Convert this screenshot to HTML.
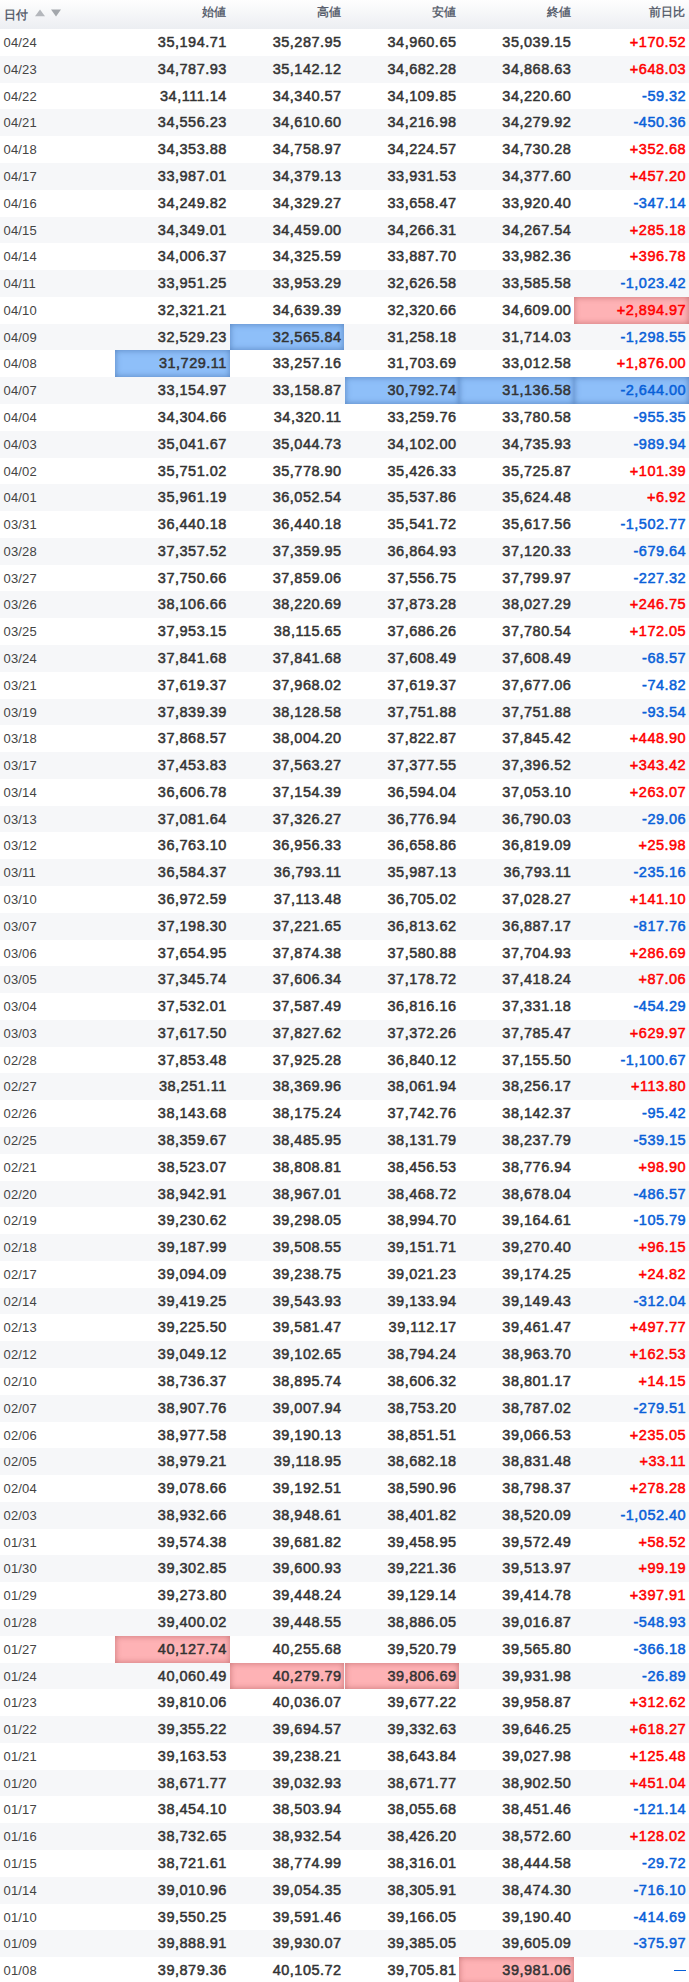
<!DOCTYPE html><html><head><meta charset="utf-8"><style>
*{margin:0;padding:0;box-sizing:border-box}
html,body{width:689px;height:1982px;overflow:hidden;background:#fff}
body{position:relative;font-family:"Liberation Sans",sans-serif;color:#333}
.hd{position:absolute;left:0;top:0;width:689px;height:29px;background:linear-gradient(#fefefe,#eceef2)}
.h{position:absolute;top:0;height:29px;font-size:12px;line-height:23px;color:#4b5262;text-align:right;padding-right:3.5px;-webkit-text-stroke:0.3px #4b5262;padding-top:0.5px}
.r{position:absolute;left:0;width:689px}
.g{background:#f6f7f9}
.c{position:absolute;top:0;height:100%;text-align:right;padding-right:2.8px;font-weight:normal;font-size:14.5px;letter-spacing:0.5px;-webkit-text-stroke:0.5px currentColor;padding-top:0}
.c>i{font-style:normal}
.d{text-align:left;padding-left:3.5px;letter-spacing:0.15px;font-size:13px;-webkit-text-stroke:0;color:#444;padding-top:1px}
.up{color:#f00}.dn{color:#0860d8}
.bl{background:#8ebff9;box-shadow:inset 0 0 6px rgba(30,70,130,.5)}
.pk{background:#feb2b5;box-shadow:inset 0 0 6px rgba(130,40,40,.45)}
.dash{display:inline-block;width:11.5px;height:1.3px;background:#0860d8;vertical-align:middle;margin-right:0.5px;position:relative;top:-1px}
.ar{position:absolute;left:0;top:0}
</style></head><body>
<div class="hd">
<div class="h" style="left:0;width:114.833px;text-align:left;padding-left:4.3px;line-height:28px">日付</div>
<svg class="ar" width="70" height="29"><polygon points="35,16.2 45,16.2 40,9.6" fill="#b4b7bc"/><polygon points="51,9.6 61,9.6 56,16.5" fill="#a3a7ac"/></svg>
<div class="h" style="left:114.833px;width:114.833px">始値</div>
<div class="h" style="left:229.667px;width:114.833px">高値</div>
<div class="h" style="left:344.500px;width:114.833px">安値</div>
<div class="h" style="left:459.333px;width:114.833px">終値</div>
<div class="h" style="left:574.167px;width:114.833px">前日比</div>
</div>
<div class="r" style="top:29.15px;height:26.777px;line-height:26.777px">
<span class="c d" style="left:0.000px;width:114.833px"><i>04/24</i></span>
<span class="c" style="left:114.833px;width:114.833px"><i>35,194.71</i></span>
<span class="c" style="left:229.667px;width:114.833px"><i>35,287.95</i></span>
<span class="c" style="left:344.500px;width:114.833px"><i>34,960.65</i></span>
<span class="c" style="left:459.333px;width:114.833px"><i>35,039.15</i></span>
<span class="c up" style="left:574.167px;width:114.833px"><i>+170.52</i></span>
</div>
<div class="r g" style="top:55.93px;height:26.777px;line-height:26.777px">
<span class="c d" style="left:0.000px;width:114.833px"><i>04/23</i></span>
<span class="c" style="left:114.833px;width:114.833px"><i>34,787.93</i></span>
<span class="c" style="left:229.667px;width:114.833px"><i>35,142.12</i></span>
<span class="c" style="left:344.500px;width:114.833px"><i>34,682.28</i></span>
<span class="c" style="left:459.333px;width:114.833px"><i>34,868.63</i></span>
<span class="c up" style="left:574.167px;width:114.833px"><i>+648.03</i></span>
</div>
<div class="r" style="top:82.70px;height:26.777px;line-height:26.777px">
<span class="c d" style="left:0.000px;width:114.833px"><i>04/22</i></span>
<span class="c" style="left:114.833px;width:114.833px"><i>34,111.14</i></span>
<span class="c" style="left:229.667px;width:114.833px"><i>34,340.57</i></span>
<span class="c" style="left:344.500px;width:114.833px"><i>34,109.85</i></span>
<span class="c" style="left:459.333px;width:114.833px"><i>34,220.60</i></span>
<span class="c dn" style="left:574.167px;width:114.833px"><i>-59.32</i></span>
</div>
<div class="r g" style="top:109.48px;height:26.777px;line-height:26.777px">
<span class="c d" style="left:0.000px;width:114.833px"><i>04/21</i></span>
<span class="c" style="left:114.833px;width:114.833px"><i>34,556.23</i></span>
<span class="c" style="left:229.667px;width:114.833px"><i>34,610.60</i></span>
<span class="c" style="left:344.500px;width:114.833px"><i>34,216.98</i></span>
<span class="c" style="left:459.333px;width:114.833px"><i>34,279.92</i></span>
<span class="c dn" style="left:574.167px;width:114.833px"><i>-450.36</i></span>
</div>
<div class="r" style="top:136.26px;height:26.777px;line-height:26.777px">
<span class="c d" style="left:0.000px;width:114.833px"><i>04/18</i></span>
<span class="c" style="left:114.833px;width:114.833px"><i>34,353.88</i></span>
<span class="c" style="left:229.667px;width:114.833px"><i>34,758.97</i></span>
<span class="c" style="left:344.500px;width:114.833px"><i>34,224.57</i></span>
<span class="c" style="left:459.333px;width:114.833px"><i>34,730.28</i></span>
<span class="c up" style="left:574.167px;width:114.833px"><i>+352.68</i></span>
</div>
<div class="r g" style="top:163.03px;height:26.777px;line-height:26.777px">
<span class="c d" style="left:0.000px;width:114.833px"><i>04/17</i></span>
<span class="c" style="left:114.833px;width:114.833px"><i>33,987.01</i></span>
<span class="c" style="left:229.667px;width:114.833px"><i>34,379.13</i></span>
<span class="c" style="left:344.500px;width:114.833px"><i>33,931.53</i></span>
<span class="c" style="left:459.333px;width:114.833px"><i>34,377.60</i></span>
<span class="c up" style="left:574.167px;width:114.833px"><i>+457.20</i></span>
</div>
<div class="r" style="top:189.81px;height:26.777px;line-height:26.777px">
<span class="c d" style="left:0.000px;width:114.833px"><i>04/16</i></span>
<span class="c" style="left:114.833px;width:114.833px"><i>34,249.82</i></span>
<span class="c" style="left:229.667px;width:114.833px"><i>34,329.27</i></span>
<span class="c" style="left:344.500px;width:114.833px"><i>33,658.47</i></span>
<span class="c" style="left:459.333px;width:114.833px"><i>33,920.40</i></span>
<span class="c dn" style="left:574.167px;width:114.833px"><i>-347.14</i></span>
</div>
<div class="r g" style="top:216.59px;height:26.777px;line-height:26.777px">
<span class="c d" style="left:0.000px;width:114.833px"><i>04/15</i></span>
<span class="c" style="left:114.833px;width:114.833px"><i>34,349.01</i></span>
<span class="c" style="left:229.667px;width:114.833px"><i>34,459.00</i></span>
<span class="c" style="left:344.500px;width:114.833px"><i>34,266.31</i></span>
<span class="c" style="left:459.333px;width:114.833px"><i>34,267.54</i></span>
<span class="c up" style="left:574.167px;width:114.833px"><i>+285.18</i></span>
</div>
<div class="r" style="top:243.37px;height:26.777px;line-height:26.777px">
<span class="c d" style="left:0.000px;width:114.833px"><i>04/14</i></span>
<span class="c" style="left:114.833px;width:114.833px"><i>34,006.37</i></span>
<span class="c" style="left:229.667px;width:114.833px"><i>34,325.59</i></span>
<span class="c" style="left:344.500px;width:114.833px"><i>33,887.70</i></span>
<span class="c" style="left:459.333px;width:114.833px"><i>33,982.36</i></span>
<span class="c up" style="left:574.167px;width:114.833px"><i>+396.78</i></span>
</div>
<div class="r g" style="top:270.14px;height:26.777px;line-height:26.777px">
<span class="c d" style="left:0.000px;width:114.833px"><i>04/11</i></span>
<span class="c" style="left:114.833px;width:114.833px"><i>33,951.25</i></span>
<span class="c" style="left:229.667px;width:114.833px"><i>33,953.29</i></span>
<span class="c" style="left:344.500px;width:114.833px"><i>32,626.58</i></span>
<span class="c" style="left:459.333px;width:114.833px"><i>33,585.58</i></span>
<span class="c dn" style="left:574.167px;width:114.833px"><i>-1,023.42</i></span>
</div>
<div class="r" style="top:296.92px;height:26.777px;line-height:26.777px">
<span class="c d" style="left:0.000px;width:114.833px"><i>04/10</i></span>
<span class="c" style="left:114.833px;width:114.833px"><i>32,321.21</i></span>
<span class="c" style="left:229.667px;width:114.833px"><i>34,639.39</i></span>
<span class="c" style="left:344.500px;width:114.833px"><i>32,320.66</i></span>
<span class="c" style="left:459.333px;width:114.833px"><i>34,609.00</i></span>
<span class="c up pk" style="left:574.167px;width:114.833px"><i>+2,894.97</i></span>
</div>
<div class="r g" style="top:323.70px;height:26.777px;line-height:26.777px">
<span class="c d" style="left:0.000px;width:114.833px"><i>04/09</i></span>
<span class="c" style="left:114.833px;width:114.833px"><i>32,529.23</i></span>
<span class="c bl" style="left:229.667px;width:114.833px"><i>32,565.84</i></span>
<span class="c" style="left:344.500px;width:114.833px"><i>31,258.18</i></span>
<span class="c" style="left:459.333px;width:114.833px"><i>31,714.03</i></span>
<span class="c dn" style="left:574.167px;width:114.833px"><i>-1,298.55</i></span>
</div>
<div class="r" style="top:350.47px;height:26.777px;line-height:26.777px">
<span class="c d" style="left:0.000px;width:114.833px"><i>04/08</i></span>
<span class="c bl" style="left:114.833px;width:114.833px"><i>31,729.11</i></span>
<span class="c" style="left:229.667px;width:114.833px"><i>33,257.16</i></span>
<span class="c" style="left:344.500px;width:114.833px"><i>31,703.69</i></span>
<span class="c" style="left:459.333px;width:114.833px"><i>33,012.58</i></span>
<span class="c up" style="left:574.167px;width:114.833px"><i>+1,876.00</i></span>
</div>
<div class="r g" style="top:377.25px;height:26.777px;line-height:26.777px">
<span class="c d" style="left:0.000px;width:114.833px"><i>04/07</i></span>
<span class="c" style="left:114.833px;width:114.833px"><i>33,154.97</i></span>
<span class="c" style="left:229.667px;width:114.833px"><i>33,158.87</i></span>
<span class="c bl" style="left:344.500px;width:114.833px"><i>30,792.74</i></span>
<span class="c bl" style="left:459.333px;width:114.833px"><i>31,136.58</i></span>
<span class="c dn bl" style="left:574.167px;width:114.833px"><i>-2,644.00</i></span>
</div>
<div class="r" style="top:404.03px;height:26.777px;line-height:26.777px">
<span class="c d" style="left:0.000px;width:114.833px"><i>04/04</i></span>
<span class="c" style="left:114.833px;width:114.833px"><i>34,304.66</i></span>
<span class="c" style="left:229.667px;width:114.833px"><i>34,320.11</i></span>
<span class="c" style="left:344.500px;width:114.833px"><i>33,259.76</i></span>
<span class="c" style="left:459.333px;width:114.833px"><i>33,780.58</i></span>
<span class="c dn" style="left:574.167px;width:114.833px"><i>-955.35</i></span>
</div>
<div class="r g" style="top:430.81px;height:26.777px;line-height:26.777px">
<span class="c d" style="left:0.000px;width:114.833px"><i>04/03</i></span>
<span class="c" style="left:114.833px;width:114.833px"><i>35,041.67</i></span>
<span class="c" style="left:229.667px;width:114.833px"><i>35,044.73</i></span>
<span class="c" style="left:344.500px;width:114.833px"><i>34,102.00</i></span>
<span class="c" style="left:459.333px;width:114.833px"><i>34,735.93</i></span>
<span class="c dn" style="left:574.167px;width:114.833px"><i>-989.94</i></span>
</div>
<div class="r" style="top:457.58px;height:26.777px;line-height:26.777px">
<span class="c d" style="left:0.000px;width:114.833px"><i>04/02</i></span>
<span class="c" style="left:114.833px;width:114.833px"><i>35,751.02</i></span>
<span class="c" style="left:229.667px;width:114.833px"><i>35,778.90</i></span>
<span class="c" style="left:344.500px;width:114.833px"><i>35,426.33</i></span>
<span class="c" style="left:459.333px;width:114.833px"><i>35,725.87</i></span>
<span class="c up" style="left:574.167px;width:114.833px"><i>+101.39</i></span>
</div>
<div class="r g" style="top:484.36px;height:26.777px;line-height:26.777px">
<span class="c d" style="left:0.000px;width:114.833px"><i>04/01</i></span>
<span class="c" style="left:114.833px;width:114.833px"><i>35,961.19</i></span>
<span class="c" style="left:229.667px;width:114.833px"><i>36,052.54</i></span>
<span class="c" style="left:344.500px;width:114.833px"><i>35,537.86</i></span>
<span class="c" style="left:459.333px;width:114.833px"><i>35,624.48</i></span>
<span class="c up" style="left:574.167px;width:114.833px"><i>+6.92</i></span>
</div>
<div class="r" style="top:511.14px;height:26.777px;line-height:26.777px">
<span class="c d" style="left:0.000px;width:114.833px"><i>03/31</i></span>
<span class="c" style="left:114.833px;width:114.833px"><i>36,440.18</i></span>
<span class="c" style="left:229.667px;width:114.833px"><i>36,440.18</i></span>
<span class="c" style="left:344.500px;width:114.833px"><i>35,541.72</i></span>
<span class="c" style="left:459.333px;width:114.833px"><i>35,617.56</i></span>
<span class="c dn" style="left:574.167px;width:114.833px"><i>-1,502.77</i></span>
</div>
<div class="r g" style="top:537.91px;height:26.777px;line-height:26.777px">
<span class="c d" style="left:0.000px;width:114.833px"><i>03/28</i></span>
<span class="c" style="left:114.833px;width:114.833px"><i>37,357.52</i></span>
<span class="c" style="left:229.667px;width:114.833px"><i>37,359.95</i></span>
<span class="c" style="left:344.500px;width:114.833px"><i>36,864.93</i></span>
<span class="c" style="left:459.333px;width:114.833px"><i>37,120.33</i></span>
<span class="c dn" style="left:574.167px;width:114.833px"><i>-679.64</i></span>
</div>
<div class="r" style="top:564.69px;height:26.777px;line-height:26.777px">
<span class="c d" style="left:0.000px;width:114.833px"><i>03/27</i></span>
<span class="c" style="left:114.833px;width:114.833px"><i>37,750.66</i></span>
<span class="c" style="left:229.667px;width:114.833px"><i>37,859.06</i></span>
<span class="c" style="left:344.500px;width:114.833px"><i>37,556.75</i></span>
<span class="c" style="left:459.333px;width:114.833px"><i>37,799.97</i></span>
<span class="c dn" style="left:574.167px;width:114.833px"><i>-227.32</i></span>
</div>
<div class="r g" style="top:591.47px;height:26.777px;line-height:26.777px">
<span class="c d" style="left:0.000px;width:114.833px"><i>03/26</i></span>
<span class="c" style="left:114.833px;width:114.833px"><i>38,106.66</i></span>
<span class="c" style="left:229.667px;width:114.833px"><i>38,220.69</i></span>
<span class="c" style="left:344.500px;width:114.833px"><i>37,873.28</i></span>
<span class="c" style="left:459.333px;width:114.833px"><i>38,027.29</i></span>
<span class="c up" style="left:574.167px;width:114.833px"><i>+246.75</i></span>
</div>
<div class="r" style="top:618.24px;height:26.777px;line-height:26.777px">
<span class="c d" style="left:0.000px;width:114.833px"><i>03/25</i></span>
<span class="c" style="left:114.833px;width:114.833px"><i>37,953.15</i></span>
<span class="c" style="left:229.667px;width:114.833px"><i>38,115.65</i></span>
<span class="c" style="left:344.500px;width:114.833px"><i>37,686.26</i></span>
<span class="c" style="left:459.333px;width:114.833px"><i>37,780.54</i></span>
<span class="c up" style="left:574.167px;width:114.833px"><i>+172.05</i></span>
</div>
<div class="r g" style="top:645.02px;height:26.777px;line-height:26.777px">
<span class="c d" style="left:0.000px;width:114.833px"><i>03/24</i></span>
<span class="c" style="left:114.833px;width:114.833px"><i>37,841.68</i></span>
<span class="c" style="left:229.667px;width:114.833px"><i>37,841.68</i></span>
<span class="c" style="left:344.500px;width:114.833px"><i>37,608.49</i></span>
<span class="c" style="left:459.333px;width:114.833px"><i>37,608.49</i></span>
<span class="c dn" style="left:574.167px;width:114.833px"><i>-68.57</i></span>
</div>
<div class="r" style="top:671.80px;height:26.777px;line-height:26.777px">
<span class="c d" style="left:0.000px;width:114.833px"><i>03/21</i></span>
<span class="c" style="left:114.833px;width:114.833px"><i>37,619.37</i></span>
<span class="c" style="left:229.667px;width:114.833px"><i>37,968.02</i></span>
<span class="c" style="left:344.500px;width:114.833px"><i>37,619.37</i></span>
<span class="c" style="left:459.333px;width:114.833px"><i>37,677.06</i></span>
<span class="c dn" style="left:574.167px;width:114.833px"><i>-74.82</i></span>
</div>
<div class="r g" style="top:698.58px;height:26.777px;line-height:26.777px">
<span class="c d" style="left:0.000px;width:114.833px"><i>03/19</i></span>
<span class="c" style="left:114.833px;width:114.833px"><i>37,839.39</i></span>
<span class="c" style="left:229.667px;width:114.833px"><i>38,128.58</i></span>
<span class="c" style="left:344.500px;width:114.833px"><i>37,751.88</i></span>
<span class="c" style="left:459.333px;width:114.833px"><i>37,751.88</i></span>
<span class="c dn" style="left:574.167px;width:114.833px"><i>-93.54</i></span>
</div>
<div class="r" style="top:725.35px;height:26.777px;line-height:26.777px">
<span class="c d" style="left:0.000px;width:114.833px"><i>03/18</i></span>
<span class="c" style="left:114.833px;width:114.833px"><i>37,868.57</i></span>
<span class="c" style="left:229.667px;width:114.833px"><i>38,004.20</i></span>
<span class="c" style="left:344.500px;width:114.833px"><i>37,822.87</i></span>
<span class="c" style="left:459.333px;width:114.833px"><i>37,845.42</i></span>
<span class="c up" style="left:574.167px;width:114.833px"><i>+448.90</i></span>
</div>
<div class="r g" style="top:752.13px;height:26.777px;line-height:26.777px">
<span class="c d" style="left:0.000px;width:114.833px"><i>03/17</i></span>
<span class="c" style="left:114.833px;width:114.833px"><i>37,453.83</i></span>
<span class="c" style="left:229.667px;width:114.833px"><i>37,563.27</i></span>
<span class="c" style="left:344.500px;width:114.833px"><i>37,377.55</i></span>
<span class="c" style="left:459.333px;width:114.833px"><i>37,396.52</i></span>
<span class="c up" style="left:574.167px;width:114.833px"><i>+343.42</i></span>
</div>
<div class="r" style="top:778.91px;height:26.777px;line-height:26.777px">
<span class="c d" style="left:0.000px;width:114.833px"><i>03/14</i></span>
<span class="c" style="left:114.833px;width:114.833px"><i>36,606.78</i></span>
<span class="c" style="left:229.667px;width:114.833px"><i>37,154.39</i></span>
<span class="c" style="left:344.500px;width:114.833px"><i>36,594.04</i></span>
<span class="c" style="left:459.333px;width:114.833px"><i>37,053.10</i></span>
<span class="c up" style="left:574.167px;width:114.833px"><i>+263.07</i></span>
</div>
<div class="r g" style="top:805.68px;height:26.777px;line-height:26.777px">
<span class="c d" style="left:0.000px;width:114.833px"><i>03/13</i></span>
<span class="c" style="left:114.833px;width:114.833px"><i>37,081.64</i></span>
<span class="c" style="left:229.667px;width:114.833px"><i>37,326.27</i></span>
<span class="c" style="left:344.500px;width:114.833px"><i>36,776.94</i></span>
<span class="c" style="left:459.333px;width:114.833px"><i>36,790.03</i></span>
<span class="c dn" style="left:574.167px;width:114.833px"><i>-29.06</i></span>
</div>
<div class="r" style="top:832.46px;height:26.777px;line-height:26.777px">
<span class="c d" style="left:0.000px;width:114.833px"><i>03/12</i></span>
<span class="c" style="left:114.833px;width:114.833px"><i>36,763.10</i></span>
<span class="c" style="left:229.667px;width:114.833px"><i>36,956.33</i></span>
<span class="c" style="left:344.500px;width:114.833px"><i>36,658.86</i></span>
<span class="c" style="left:459.333px;width:114.833px"><i>36,819.09</i></span>
<span class="c up" style="left:574.167px;width:114.833px"><i>+25.98</i></span>
</div>
<div class="r g" style="top:859.24px;height:26.777px;line-height:26.777px">
<span class="c d" style="left:0.000px;width:114.833px"><i>03/11</i></span>
<span class="c" style="left:114.833px;width:114.833px"><i>36,584.37</i></span>
<span class="c" style="left:229.667px;width:114.833px"><i>36,793.11</i></span>
<span class="c" style="left:344.500px;width:114.833px"><i>35,987.13</i></span>
<span class="c" style="left:459.333px;width:114.833px"><i>36,793.11</i></span>
<span class="c dn" style="left:574.167px;width:114.833px"><i>-235.16</i></span>
</div>
<div class="r" style="top:886.01px;height:26.777px;line-height:26.777px">
<span class="c d" style="left:0.000px;width:114.833px"><i>03/10</i></span>
<span class="c" style="left:114.833px;width:114.833px"><i>36,972.59</i></span>
<span class="c" style="left:229.667px;width:114.833px"><i>37,113.48</i></span>
<span class="c" style="left:344.500px;width:114.833px"><i>36,705.02</i></span>
<span class="c" style="left:459.333px;width:114.833px"><i>37,028.27</i></span>
<span class="c up" style="left:574.167px;width:114.833px"><i>+141.10</i></span>
</div>
<div class="r g" style="top:912.79px;height:26.777px;line-height:26.777px">
<span class="c d" style="left:0.000px;width:114.833px"><i>03/07</i></span>
<span class="c" style="left:114.833px;width:114.833px"><i>37,198.30</i></span>
<span class="c" style="left:229.667px;width:114.833px"><i>37,221.65</i></span>
<span class="c" style="left:344.500px;width:114.833px"><i>36,813.62</i></span>
<span class="c" style="left:459.333px;width:114.833px"><i>36,887.17</i></span>
<span class="c dn" style="left:574.167px;width:114.833px"><i>-817.76</i></span>
</div>
<div class="r" style="top:939.57px;height:26.777px;line-height:26.777px">
<span class="c d" style="left:0.000px;width:114.833px"><i>03/06</i></span>
<span class="c" style="left:114.833px;width:114.833px"><i>37,654.95</i></span>
<span class="c" style="left:229.667px;width:114.833px"><i>37,874.38</i></span>
<span class="c" style="left:344.500px;width:114.833px"><i>37,580.88</i></span>
<span class="c" style="left:459.333px;width:114.833px"><i>37,704.93</i></span>
<span class="c up" style="left:574.167px;width:114.833px"><i>+286.69</i></span>
</div>
<div class="r g" style="top:966.35px;height:26.777px;line-height:26.777px">
<span class="c d" style="left:0.000px;width:114.833px"><i>03/05</i></span>
<span class="c" style="left:114.833px;width:114.833px"><i>37,345.74</i></span>
<span class="c" style="left:229.667px;width:114.833px"><i>37,606.34</i></span>
<span class="c" style="left:344.500px;width:114.833px"><i>37,178.72</i></span>
<span class="c" style="left:459.333px;width:114.833px"><i>37,418.24</i></span>
<span class="c up" style="left:574.167px;width:114.833px"><i>+87.06</i></span>
</div>
<div class="r" style="top:993.12px;height:26.777px;line-height:26.777px">
<span class="c d" style="left:0.000px;width:114.833px"><i>03/04</i></span>
<span class="c" style="left:114.833px;width:114.833px"><i>37,532.01</i></span>
<span class="c" style="left:229.667px;width:114.833px"><i>37,587.49</i></span>
<span class="c" style="left:344.500px;width:114.833px"><i>36,816.16</i></span>
<span class="c" style="left:459.333px;width:114.833px"><i>37,331.18</i></span>
<span class="c dn" style="left:574.167px;width:114.833px"><i>-454.29</i></span>
</div>
<div class="r g" style="top:1019.90px;height:26.777px;line-height:26.777px">
<span class="c d" style="left:0.000px;width:114.833px"><i>03/03</i></span>
<span class="c" style="left:114.833px;width:114.833px"><i>37,617.50</i></span>
<span class="c" style="left:229.667px;width:114.833px"><i>37,827.62</i></span>
<span class="c" style="left:344.500px;width:114.833px"><i>37,372.26</i></span>
<span class="c" style="left:459.333px;width:114.833px"><i>37,785.47</i></span>
<span class="c up" style="left:574.167px;width:114.833px"><i>+629.97</i></span>
</div>
<div class="r" style="top:1046.68px;height:26.777px;line-height:26.777px">
<span class="c d" style="left:0.000px;width:114.833px"><i>02/28</i></span>
<span class="c" style="left:114.833px;width:114.833px"><i>37,853.48</i></span>
<span class="c" style="left:229.667px;width:114.833px"><i>37,925.28</i></span>
<span class="c" style="left:344.500px;width:114.833px"><i>36,840.12</i></span>
<span class="c" style="left:459.333px;width:114.833px"><i>37,155.50</i></span>
<span class="c dn" style="left:574.167px;width:114.833px"><i>-1,100.67</i></span>
</div>
<div class="r g" style="top:1073.45px;height:26.777px;line-height:26.777px">
<span class="c d" style="left:0.000px;width:114.833px"><i>02/27</i></span>
<span class="c" style="left:114.833px;width:114.833px"><i>38,251.11</i></span>
<span class="c" style="left:229.667px;width:114.833px"><i>38,369.96</i></span>
<span class="c" style="left:344.500px;width:114.833px"><i>38,061.94</i></span>
<span class="c" style="left:459.333px;width:114.833px"><i>38,256.17</i></span>
<span class="c up" style="left:574.167px;width:114.833px"><i>+113.80</i></span>
</div>
<div class="r" style="top:1100.23px;height:26.777px;line-height:26.777px">
<span class="c d" style="left:0.000px;width:114.833px"><i>02/26</i></span>
<span class="c" style="left:114.833px;width:114.833px"><i>38,143.68</i></span>
<span class="c" style="left:229.667px;width:114.833px"><i>38,175.24</i></span>
<span class="c" style="left:344.500px;width:114.833px"><i>37,742.76</i></span>
<span class="c" style="left:459.333px;width:114.833px"><i>38,142.37</i></span>
<span class="c dn" style="left:574.167px;width:114.833px"><i>-95.42</i></span>
</div>
<div class="r g" style="top:1127.01px;height:26.777px;line-height:26.777px">
<span class="c d" style="left:0.000px;width:114.833px"><i>02/25</i></span>
<span class="c" style="left:114.833px;width:114.833px"><i>38,359.67</i></span>
<span class="c" style="left:229.667px;width:114.833px"><i>38,485.95</i></span>
<span class="c" style="left:344.500px;width:114.833px"><i>38,131.79</i></span>
<span class="c" style="left:459.333px;width:114.833px"><i>38,237.79</i></span>
<span class="c dn" style="left:574.167px;width:114.833px"><i>-539.15</i></span>
</div>
<div class="r" style="top:1153.78px;height:26.777px;line-height:26.777px">
<span class="c d" style="left:0.000px;width:114.833px"><i>02/21</i></span>
<span class="c" style="left:114.833px;width:114.833px"><i>38,523.07</i></span>
<span class="c" style="left:229.667px;width:114.833px"><i>38,808.81</i></span>
<span class="c" style="left:344.500px;width:114.833px"><i>38,456.53</i></span>
<span class="c" style="left:459.333px;width:114.833px"><i>38,776.94</i></span>
<span class="c up" style="left:574.167px;width:114.833px"><i>+98.90</i></span>
</div>
<div class="r g" style="top:1180.56px;height:26.777px;line-height:26.777px">
<span class="c d" style="left:0.000px;width:114.833px"><i>02/20</i></span>
<span class="c" style="left:114.833px;width:114.833px"><i>38,942.91</i></span>
<span class="c" style="left:229.667px;width:114.833px"><i>38,967.01</i></span>
<span class="c" style="left:344.500px;width:114.833px"><i>38,468.72</i></span>
<span class="c" style="left:459.333px;width:114.833px"><i>38,678.04</i></span>
<span class="c dn" style="left:574.167px;width:114.833px"><i>-486.57</i></span>
</div>
<div class="r" style="top:1207.34px;height:26.777px;line-height:26.777px">
<span class="c d" style="left:0.000px;width:114.833px"><i>02/19</i></span>
<span class="c" style="left:114.833px;width:114.833px"><i>39,230.62</i></span>
<span class="c" style="left:229.667px;width:114.833px"><i>39,298.05</i></span>
<span class="c" style="left:344.500px;width:114.833px"><i>38,994.70</i></span>
<span class="c" style="left:459.333px;width:114.833px"><i>39,164.61</i></span>
<span class="c dn" style="left:574.167px;width:114.833px"><i>-105.79</i></span>
</div>
<div class="r g" style="top:1234.12px;height:26.777px;line-height:26.777px">
<span class="c d" style="left:0.000px;width:114.833px"><i>02/18</i></span>
<span class="c" style="left:114.833px;width:114.833px"><i>39,187.99</i></span>
<span class="c" style="left:229.667px;width:114.833px"><i>39,508.55</i></span>
<span class="c" style="left:344.500px;width:114.833px"><i>39,151.71</i></span>
<span class="c" style="left:459.333px;width:114.833px"><i>39,270.40</i></span>
<span class="c up" style="left:574.167px;width:114.833px"><i>+96.15</i></span>
</div>
<div class="r" style="top:1260.89px;height:26.777px;line-height:26.777px">
<span class="c d" style="left:0.000px;width:114.833px"><i>02/17</i></span>
<span class="c" style="left:114.833px;width:114.833px"><i>39,094.09</i></span>
<span class="c" style="left:229.667px;width:114.833px"><i>39,238.75</i></span>
<span class="c" style="left:344.500px;width:114.833px"><i>39,021.23</i></span>
<span class="c" style="left:459.333px;width:114.833px"><i>39,174.25</i></span>
<span class="c up" style="left:574.167px;width:114.833px"><i>+24.82</i></span>
</div>
<div class="r g" style="top:1287.67px;height:26.777px;line-height:26.777px">
<span class="c d" style="left:0.000px;width:114.833px"><i>02/14</i></span>
<span class="c" style="left:114.833px;width:114.833px"><i>39,419.25</i></span>
<span class="c" style="left:229.667px;width:114.833px"><i>39,543.93</i></span>
<span class="c" style="left:344.500px;width:114.833px"><i>39,133.94</i></span>
<span class="c" style="left:459.333px;width:114.833px"><i>39,149.43</i></span>
<span class="c dn" style="left:574.167px;width:114.833px"><i>-312.04</i></span>
</div>
<div class="r" style="top:1314.45px;height:26.777px;line-height:26.777px">
<span class="c d" style="left:0.000px;width:114.833px"><i>02/13</i></span>
<span class="c" style="left:114.833px;width:114.833px"><i>39,225.50</i></span>
<span class="c" style="left:229.667px;width:114.833px"><i>39,581.47</i></span>
<span class="c" style="left:344.500px;width:114.833px"><i>39,112.17</i></span>
<span class="c" style="left:459.333px;width:114.833px"><i>39,461.47</i></span>
<span class="c up" style="left:574.167px;width:114.833px"><i>+497.77</i></span>
</div>
<div class="r g" style="top:1341.22px;height:26.777px;line-height:26.777px">
<span class="c d" style="left:0.000px;width:114.833px"><i>02/12</i></span>
<span class="c" style="left:114.833px;width:114.833px"><i>39,049.12</i></span>
<span class="c" style="left:229.667px;width:114.833px"><i>39,102.65</i></span>
<span class="c" style="left:344.500px;width:114.833px"><i>38,794.24</i></span>
<span class="c" style="left:459.333px;width:114.833px"><i>38,963.70</i></span>
<span class="c up" style="left:574.167px;width:114.833px"><i>+162.53</i></span>
</div>
<div class="r" style="top:1368.00px;height:26.777px;line-height:26.777px">
<span class="c d" style="left:0.000px;width:114.833px"><i>02/10</i></span>
<span class="c" style="left:114.833px;width:114.833px"><i>38,736.37</i></span>
<span class="c" style="left:229.667px;width:114.833px"><i>38,895.74</i></span>
<span class="c" style="left:344.500px;width:114.833px"><i>38,606.32</i></span>
<span class="c" style="left:459.333px;width:114.833px"><i>38,801.17</i></span>
<span class="c up" style="left:574.167px;width:114.833px"><i>+14.15</i></span>
</div>
<div class="r g" style="top:1394.78px;height:26.777px;line-height:26.777px">
<span class="c d" style="left:0.000px;width:114.833px"><i>02/07</i></span>
<span class="c" style="left:114.833px;width:114.833px"><i>38,907.76</i></span>
<span class="c" style="left:229.667px;width:114.833px"><i>39,007.94</i></span>
<span class="c" style="left:344.500px;width:114.833px"><i>38,753.20</i></span>
<span class="c" style="left:459.333px;width:114.833px"><i>38,787.02</i></span>
<span class="c dn" style="left:574.167px;width:114.833px"><i>-279.51</i></span>
</div>
<div class="r" style="top:1421.55px;height:26.777px;line-height:26.777px">
<span class="c d" style="left:0.000px;width:114.833px"><i>02/06</i></span>
<span class="c" style="left:114.833px;width:114.833px"><i>38,977.58</i></span>
<span class="c" style="left:229.667px;width:114.833px"><i>39,190.13</i></span>
<span class="c" style="left:344.500px;width:114.833px"><i>38,851.51</i></span>
<span class="c" style="left:459.333px;width:114.833px"><i>39,066.53</i></span>
<span class="c up" style="left:574.167px;width:114.833px"><i>+235.05</i></span>
</div>
<div class="r g" style="top:1448.33px;height:26.777px;line-height:26.777px">
<span class="c d" style="left:0.000px;width:114.833px"><i>02/05</i></span>
<span class="c" style="left:114.833px;width:114.833px"><i>38,979.21</i></span>
<span class="c" style="left:229.667px;width:114.833px"><i>39,118.95</i></span>
<span class="c" style="left:344.500px;width:114.833px"><i>38,682.18</i></span>
<span class="c" style="left:459.333px;width:114.833px"><i>38,831.48</i></span>
<span class="c up" style="left:574.167px;width:114.833px"><i>+33.11</i></span>
</div>
<div class="r" style="top:1475.11px;height:26.777px;line-height:26.777px">
<span class="c d" style="left:0.000px;width:114.833px"><i>02/04</i></span>
<span class="c" style="left:114.833px;width:114.833px"><i>39,078.66</i></span>
<span class="c" style="left:229.667px;width:114.833px"><i>39,192.51</i></span>
<span class="c" style="left:344.500px;width:114.833px"><i>38,590.96</i></span>
<span class="c" style="left:459.333px;width:114.833px"><i>38,798.37</i></span>
<span class="c up" style="left:574.167px;width:114.833px"><i>+278.28</i></span>
</div>
<div class="r g" style="top:1501.89px;height:26.777px;line-height:26.777px">
<span class="c d" style="left:0.000px;width:114.833px"><i>02/03</i></span>
<span class="c" style="left:114.833px;width:114.833px"><i>38,932.66</i></span>
<span class="c" style="left:229.667px;width:114.833px"><i>38,948.61</i></span>
<span class="c" style="left:344.500px;width:114.833px"><i>38,401.82</i></span>
<span class="c" style="left:459.333px;width:114.833px"><i>38,520.09</i></span>
<span class="c dn" style="left:574.167px;width:114.833px"><i>-1,052.40</i></span>
</div>
<div class="r" style="top:1528.66px;height:26.777px;line-height:26.777px">
<span class="c d" style="left:0.000px;width:114.833px"><i>01/31</i></span>
<span class="c" style="left:114.833px;width:114.833px"><i>39,574.38</i></span>
<span class="c" style="left:229.667px;width:114.833px"><i>39,681.82</i></span>
<span class="c" style="left:344.500px;width:114.833px"><i>39,458.95</i></span>
<span class="c" style="left:459.333px;width:114.833px"><i>39,572.49</i></span>
<span class="c up" style="left:574.167px;width:114.833px"><i>+58.52</i></span>
</div>
<div class="r g" style="top:1555.44px;height:26.777px;line-height:26.777px">
<span class="c d" style="left:0.000px;width:114.833px"><i>01/30</i></span>
<span class="c" style="left:114.833px;width:114.833px"><i>39,302.85</i></span>
<span class="c" style="left:229.667px;width:114.833px"><i>39,600.93</i></span>
<span class="c" style="left:344.500px;width:114.833px"><i>39,221.36</i></span>
<span class="c" style="left:459.333px;width:114.833px"><i>39,513.97</i></span>
<span class="c up" style="left:574.167px;width:114.833px"><i>+99.19</i></span>
</div>
<div class="r" style="top:1582.22px;height:26.777px;line-height:26.777px">
<span class="c d" style="left:0.000px;width:114.833px"><i>01/29</i></span>
<span class="c" style="left:114.833px;width:114.833px"><i>39,273.80</i></span>
<span class="c" style="left:229.667px;width:114.833px"><i>39,448.24</i></span>
<span class="c" style="left:344.500px;width:114.833px"><i>39,129.14</i></span>
<span class="c" style="left:459.333px;width:114.833px"><i>39,414.78</i></span>
<span class="c up" style="left:574.167px;width:114.833px"><i>+397.91</i></span>
</div>
<div class="r g" style="top:1608.99px;height:26.777px;line-height:26.777px">
<span class="c d" style="left:0.000px;width:114.833px"><i>01/28</i></span>
<span class="c" style="left:114.833px;width:114.833px"><i>39,400.02</i></span>
<span class="c" style="left:229.667px;width:114.833px"><i>39,448.55</i></span>
<span class="c" style="left:344.500px;width:114.833px"><i>38,886.05</i></span>
<span class="c" style="left:459.333px;width:114.833px"><i>39,016.87</i></span>
<span class="c dn" style="left:574.167px;width:114.833px"><i>-548.93</i></span>
</div>
<div class="r" style="top:1635.77px;height:26.777px;line-height:26.777px">
<span class="c d" style="left:0.000px;width:114.833px"><i>01/27</i></span>
<span class="c pk" style="left:114.833px;width:114.833px"><i>40,127.74</i></span>
<span class="c" style="left:229.667px;width:114.833px"><i>40,255.68</i></span>
<span class="c" style="left:344.500px;width:114.833px"><i>39,520.79</i></span>
<span class="c" style="left:459.333px;width:114.833px"><i>39,565.80</i></span>
<span class="c dn" style="left:574.167px;width:114.833px"><i>-366.18</i></span>
</div>
<div class="r g" style="top:1662.55px;height:26.777px;line-height:26.777px">
<span class="c d" style="left:0.000px;width:114.833px"><i>01/24</i></span>
<span class="c" style="left:114.833px;width:114.833px"><i>40,060.49</i></span>
<span class="c pk" style="left:229.667px;width:114.833px"><i>40,279.79</i></span>
<span class="c pk" style="left:344.500px;width:114.833px"><i>39,806.69</i></span>
<span class="c" style="left:459.333px;width:114.833px"><i>39,931.98</i></span>
<span class="c dn" style="left:574.167px;width:114.833px"><i>-26.89</i></span>
</div>
<div class="r" style="top:1689.32px;height:26.777px;line-height:26.777px">
<span class="c d" style="left:0.000px;width:114.833px"><i>01/23</i></span>
<span class="c" style="left:114.833px;width:114.833px"><i>39,810.06</i></span>
<span class="c" style="left:229.667px;width:114.833px"><i>40,036.07</i></span>
<span class="c" style="left:344.500px;width:114.833px"><i>39,677.22</i></span>
<span class="c" style="left:459.333px;width:114.833px"><i>39,958.87</i></span>
<span class="c up" style="left:574.167px;width:114.833px"><i>+312.62</i></span>
</div>
<div class="r g" style="top:1716.10px;height:26.777px;line-height:26.777px">
<span class="c d" style="left:0.000px;width:114.833px"><i>01/22</i></span>
<span class="c" style="left:114.833px;width:114.833px"><i>39,355.22</i></span>
<span class="c" style="left:229.667px;width:114.833px"><i>39,694.57</i></span>
<span class="c" style="left:344.500px;width:114.833px"><i>39,332.63</i></span>
<span class="c" style="left:459.333px;width:114.833px"><i>39,646.25</i></span>
<span class="c up" style="left:574.167px;width:114.833px"><i>+618.27</i></span>
</div>
<div class="r" style="top:1742.88px;height:26.777px;line-height:26.777px">
<span class="c d" style="left:0.000px;width:114.833px"><i>01/21</i></span>
<span class="c" style="left:114.833px;width:114.833px"><i>39,163.53</i></span>
<span class="c" style="left:229.667px;width:114.833px"><i>39,238.21</i></span>
<span class="c" style="left:344.500px;width:114.833px"><i>38,643.84</i></span>
<span class="c" style="left:459.333px;width:114.833px"><i>39,027.98</i></span>
<span class="c up" style="left:574.167px;width:114.833px"><i>+125.48</i></span>
</div>
<div class="r g" style="top:1769.66px;height:26.777px;line-height:26.777px">
<span class="c d" style="left:0.000px;width:114.833px"><i>01/20</i></span>
<span class="c" style="left:114.833px;width:114.833px"><i>38,671.77</i></span>
<span class="c" style="left:229.667px;width:114.833px"><i>39,032.93</i></span>
<span class="c" style="left:344.500px;width:114.833px"><i>38,671.77</i></span>
<span class="c" style="left:459.333px;width:114.833px"><i>38,902.50</i></span>
<span class="c up" style="left:574.167px;width:114.833px"><i>+451.04</i></span>
</div>
<div class="r" style="top:1796.43px;height:26.777px;line-height:26.777px">
<span class="c d" style="left:0.000px;width:114.833px"><i>01/17</i></span>
<span class="c" style="left:114.833px;width:114.833px"><i>38,454.10</i></span>
<span class="c" style="left:229.667px;width:114.833px"><i>38,503.94</i></span>
<span class="c" style="left:344.500px;width:114.833px"><i>38,055.68</i></span>
<span class="c" style="left:459.333px;width:114.833px"><i>38,451.46</i></span>
<span class="c dn" style="left:574.167px;width:114.833px"><i>-121.14</i></span>
</div>
<div class="r g" style="top:1823.21px;height:26.777px;line-height:26.777px">
<span class="c d" style="left:0.000px;width:114.833px"><i>01/16</i></span>
<span class="c" style="left:114.833px;width:114.833px"><i>38,732.65</i></span>
<span class="c" style="left:229.667px;width:114.833px"><i>38,932.54</i></span>
<span class="c" style="left:344.500px;width:114.833px"><i>38,426.20</i></span>
<span class="c" style="left:459.333px;width:114.833px"><i>38,572.60</i></span>
<span class="c up" style="left:574.167px;width:114.833px"><i>+128.02</i></span>
</div>
<div class="r" style="top:1849.99px;height:26.777px;line-height:26.777px">
<span class="c d" style="left:0.000px;width:114.833px"><i>01/15</i></span>
<span class="c" style="left:114.833px;width:114.833px"><i>38,721.61</i></span>
<span class="c" style="left:229.667px;width:114.833px"><i>38,774.99</i></span>
<span class="c" style="left:344.500px;width:114.833px"><i>38,316.01</i></span>
<span class="c" style="left:459.333px;width:114.833px"><i>38,444.58</i></span>
<span class="c dn" style="left:574.167px;width:114.833px"><i>-29.72</i></span>
</div>
<div class="r g" style="top:1876.76px;height:26.777px;line-height:26.777px">
<span class="c d" style="left:0.000px;width:114.833px"><i>01/14</i></span>
<span class="c" style="left:114.833px;width:114.833px"><i>39,010.96</i></span>
<span class="c" style="left:229.667px;width:114.833px"><i>39,054.35</i></span>
<span class="c" style="left:344.500px;width:114.833px"><i>38,305.91</i></span>
<span class="c" style="left:459.333px;width:114.833px"><i>38,474.30</i></span>
<span class="c dn" style="left:574.167px;width:114.833px"><i>-716.10</i></span>
</div>
<div class="r" style="top:1903.54px;height:26.777px;line-height:26.777px">
<span class="c d" style="left:0.000px;width:114.833px"><i>01/10</i></span>
<span class="c" style="left:114.833px;width:114.833px"><i>39,550.25</i></span>
<span class="c" style="left:229.667px;width:114.833px"><i>39,591.46</i></span>
<span class="c" style="left:344.500px;width:114.833px"><i>39,166.05</i></span>
<span class="c" style="left:459.333px;width:114.833px"><i>39,190.40</i></span>
<span class="c dn" style="left:574.167px;width:114.833px"><i>-414.69</i></span>
</div>
<div class="r g" style="top:1930.32px;height:26.777px;line-height:26.777px">
<span class="c d" style="left:0.000px;width:114.833px"><i>01/09</i></span>
<span class="c" style="left:114.833px;width:114.833px"><i>39,888.91</i></span>
<span class="c" style="left:229.667px;width:114.833px"><i>39,930.07</i></span>
<span class="c" style="left:344.500px;width:114.833px"><i>39,385.05</i></span>
<span class="c" style="left:459.333px;width:114.833px"><i>39,605.09</i></span>
<span class="c dn" style="left:574.167px;width:114.833px"><i>-375.97</i></span>
</div>
<div class="r" style="top:1957.09px;height:26.777px;line-height:26.777px">
<span class="c d" style="left:0.000px;width:114.833px"><i>01/08</i></span>
<span class="c" style="left:114.833px;width:114.833px"><i>39,879.36</i></span>
<span class="c" style="left:229.667px;width:114.833px"><i>40,105.72</i></span>
<span class="c" style="left:344.500px;width:114.833px"><i>39,705.81</i></span>
<span class="c pk" style="left:459.333px;width:114.833px"><i>39,981.06</i></span>
<span class="c dn" style="left:574.167px;width:114.833px"><b class="dash"></b></span>
</div>
</body></html>
